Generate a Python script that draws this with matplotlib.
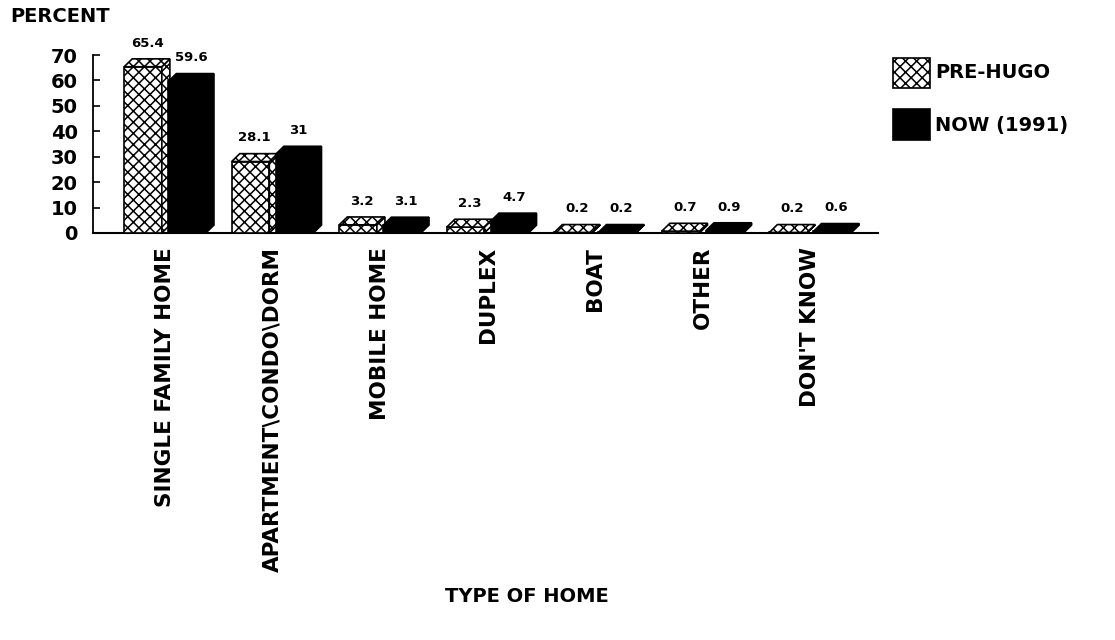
import numpy as np
import matplotlib.pyplot as plt
from matplotlib.patches import Polygon, Rectangle

# data
categories = ["SINGLE FAMILY HOME", "APARTMENT\\CONDO\\DORM", "MOBILE HOME",
              "DUPLEX", "BOAT", "OTHER", "DON'T KNOW"]
pre_hugo = [65.4, 28.1, 3.2, 2.3, 0.2, 0.7, 0.2]
now_1991 = [59.6, 31, 3.1, 4.7, 0.2, 0.9, 0.6]
yticks = [0, 10, 20, 30, 40, 50, 60, 70]

plt.rcParams['hatch.linewidth'] = 1.1
fig = plt.figure(figsize=(11.15, 6.4), dpi=100)
ax = fig.add_axes([0.0834, 0.636, 0.704, 0.278])

x = np.arange(len(categories))
w = 0.35      # bar width
off = 0.205   # offset of each series from group centre
dx = 0.075    # 3d depth, x
dy = 3.1      # 3d depth, y


def bar3d(xc, h, hatch, face):
    # front face through the normal bar call
    ax.bar(xc, h, width=w, color=face, edgecolor='black', hatch=hatch, linewidth=1.2, zorder=3)
    l, r = xc - w / 2, xc + w / 2
    top = Polygon([(l, h), (r, h), (r + dx, h + dy), (l + dx, h + dy)], closed=True,
                  facecolor=face, edgecolor='black', hatch=hatch, linewidth=1.2, zorder=3)
    side = Polygon([(r, 0), (r + dx, dy), (r + dx, h + dy), (r, h)], closed=True,
                   facecolor=face, edgecolor='black', hatch=hatch, linewidth=1.2, zorder=3)
    ax.add_patch(side)
    ax.add_patch(top)


for i in range(len(categories)):
    bar3d(x[i] - off, pre_hugo[i], 'xxx', 'white')
    bar3d(x[i] + off, now_1991[i], None, 'black')
    ax.text(x[i] - off + dx / 2, pre_hugo[i] + dy + 6.2, f"{pre_hugo[i]:g}",
            ha='center', va='center', fontsize=9.5, fontweight='bold')
    ax.text(x[i] + off + dx / 2, now_1991[i] + dy + 6.2, f"{now_1991[i]:g}",
            ha='center', va='center', fontsize=9.5, fontweight='bold')

ax.set_xlim(-0.67, 6.63)
ax.set_ylim(0, 70)
ax.set_yticks(yticks)
ax.set_yticklabels([str(t) for t in yticks], fontsize=14, fontweight='bold')
ax.tick_params(axis='y', direction='in', length=5, width=1.2, pad=11)
ax.set_xticks(x)
ax.set_xticklabels(categories, rotation=90, fontsize=15.5, fontweight='bold', va='top')
ax.tick_params(axis='x', length=0, pad=10)
ax.spines['top'].set_visible(False)
ax.spines['right'].set_visible(False)
ax.spines['left'].set_linewidth(1.3)
ax.spines['bottom'].set_linewidth(1.5)

fig.text(10 / 1115, 1 - 16 / 640, "PERCENT", fontsize=14, fontweight='bold', va='center', ha='left')
fig.text(527 / 1115, 1 - 597 / 640, "TYPE OF HOME", fontsize=14, fontweight='bold', va='center', ha='center')

# legend boxes drawn in figure coordinates
fig.patches.append(Rectangle((893 / 1115, 1 - 88 / 640), 37 / 1115, 30 / 640, transform=fig.transFigure,
                             facecolor='white', edgecolor='black', hatch='xxx', linewidth=1.2))
fig.patches.append(Rectangle((893 / 1115, 1 - 140 / 640), 37 / 1115, 31 / 640, transform=fig.transFigure,
                             facecolor='black', edgecolor='black', linewidth=1.2))
fig.text(935 / 1115, 1 - 73 / 640, "PRE-HUGO", fontsize=14, fontweight='bold', va='center', ha='left')
fig.text(935 / 1115, 1 - 126 / 640, "NOW (1991)", fontsize=14, fontweight='bold', va='center', ha='left')

fig.savefig("out.png", dpi=100)
